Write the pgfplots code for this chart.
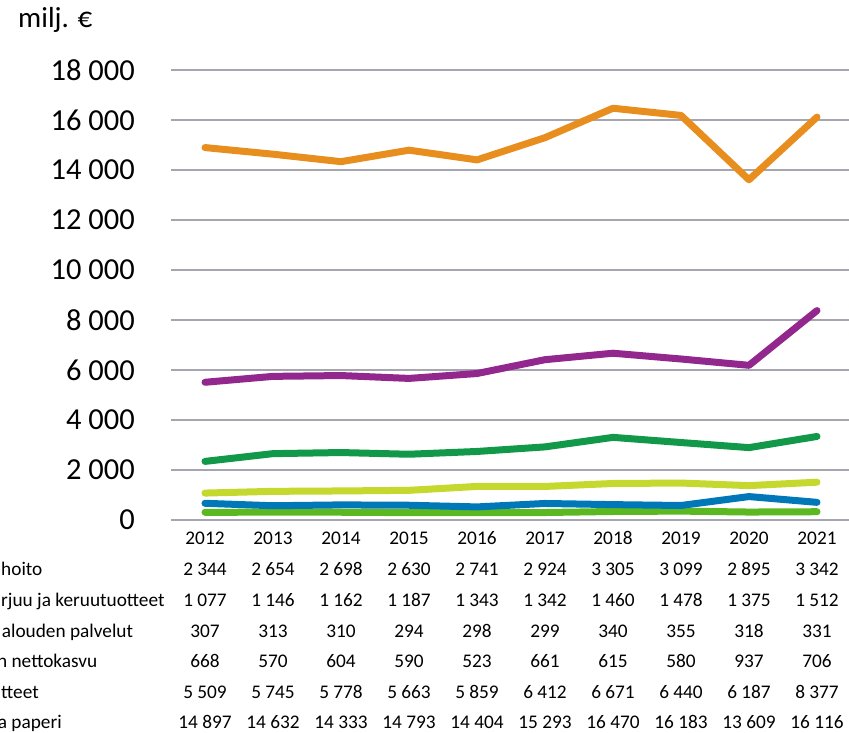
\documentclass[border=0pt]{standalone}
\usepackage{fontspec}
\setmainfont{Carlito}
\usepackage{pgfplots}
\pgfplotsset{compat=1.18}
\definecolor{cHoito}{RGB}{17,152,72}
\definecolor{cMarja}{RGB}{196,216,46}
\definecolor{cPalv}{RGB}{92,184,32}
\definecolor{cNetto}{RGB}{0,120,184}
\definecolor{cPuu}{RGB}{146,40,142}
\definecolor{cMassa}{RGB}{232,142,30}
\definecolor{gridgray}{RGB}{166,166,176}
\newcommand{\tabfont}{\fontsize{19.3}{19.3}\selectfont}
\pgfplotsset{
  tabrow/.style={draw=none, forget plot, point meta=explicit symbolic,
    nodes near coords, nodes near coords align={center},
    every node near coord/.append style={anchor=base, inner sep=0pt, font=\tabfont, text=black}},
}
\begin{document}
\begin{tikzpicture}
\begin{axis}[
  at={(0,0)}, anchor=south west,
  scale only axis, width=680pt, height=450pt,
  xmin=-0.5, xmax=9.5, ymin=0, ymax=18000,
  axis line style={draw=none}, major tick length=0pt,
  scaled y ticks=false,
  ymajorgrids, grid style={draw=gridgray, line width=1.3pt},
  ytick={0,2000,4000,6000,8000,10000,12000,14000,16000,18000},
  yticklabels={0,2 000,4 000,6 000,8 000,10 000,12 000,14 000,16 000,18 000},
  yticklabel style={font=\fontsize{30.5}{30.5}\selectfont, inner sep=0pt, anchor=east, xshift=-36pt},
  xtick={0,1,2,3,4,5,6,7,8,9},
  xticklabels={2012,2013,2014,2015,2016,2017,2018,2019,2020,2021},
  xticklabel style={font=\tabfont, inner sep=0pt, anchor=base, yshift=-25pt},
  clip=false,
  every axis plot/.append style={line width=7pt, line cap=round, line join=round, mark=none},
]
\addplot[cHoito] coordinates {(0,2344)(1,2654)(2,2698)(3,2630)(4,2741)(5,2924)(6,3305)(7,3099)(8,2895)(9,3342)};
\addplot[cMarja] coordinates {(0,1077)(1,1146)(2,1162)(3,1187)(4,1343)(5,1342)(6,1460)(7,1478)(8,1375)(9,1512)};
\addplot[cPalv] coordinates {(0,307)(1,313)(2,310)(3,294)(4,298)(5,299)(6,340)(7,355)(8,318)(9,331)};
\addplot[cNetto] coordinates {(0,668)(1,570)(2,604)(3,590)(4,523)(5,661)(6,615)(7,580)(8,937)(9,706)};
\addplot[cPuu] coordinates {(0,5509)(1,5745)(2,5778)(3,5663)(4,5859)(5,6412)(6,6671)(7,6440)(8,6187)(9,8377)};
\addplot[cMassa] coordinates {(0,14897)(1,14632)(2,14333)(3,14793)(4,14404)(5,15293)(6,16470)(7,16183)(8,13609)(9,16116)};
% data table below the plot
\addplot[tabrow] coordinates {(0,-2240)[2 344] (1,-2240)[2 654] (2,-2240)[2 698] (3,-2240)[2 630] (4,-2240)[2 741] (5,-2240)[2 924] (6,-2240)[3 305] (7,-2240)[3 099] (8,-2240)[2 895] (9,-2240)[3 342]};
\addplot[tabrow] coordinates {(0,-3480)[1 077] (1,-3480)[1 146] (2,-3480)[1 162] (3,-3480)[1 187] (4,-3480)[1 343] (5,-3480)[1 342] (6,-3480)[1 460] (7,-3480)[1 478] (8,-3480)[1 375] (9,-3480)[1 512]};
\addplot[tabrow] coordinates {(0,-4720)[307] (1,-4720)[313] (2,-4720)[310] (3,-4720)[294] (4,-4720)[298] (5,-4720)[299] (6,-4720)[340] (7,-4720)[355] (8,-4720)[318] (9,-4720)[331]};
\addplot[tabrow] coordinates {(0,-5920)[668] (1,-5920)[570] (2,-5920)[604] (3,-5920)[590] (4,-5920)[523] (5,-5920)[661] (6,-5920)[615] (7,-5920)[580] (8,-5920)[937] (9,-5920)[706]};
\addplot[tabrow] coordinates {(0,-7160)[5 509] (1,-7160)[5 745] (2,-7160)[5 778] (3,-7160)[5 663] (4,-7160)[5 859] (5,-7160)[6 412] (6,-7160)[6 671] (7,-7160)[6 440] (8,-7160)[6 187] (9,-7160)[8 377]};
\addplot[tabrow] coordinates {(0,-8360)[14 897] (1,-8360)[14 632] (2,-8360)[14 333] (3,-8360)[14 793] (4,-8360)[14 404] (5,-8360)[15 293] (6,-8360)[16 470] (7,-8360)[16 183] (8,-8360)[13 609] (9,-8360)[16 116]};
\node[anchor=base west, inner sep=0pt, font=\tabfont] at (axis cs:-3.0,-2240) {hoito};
\node[anchor=base west, inner sep=0pt, font=\tabfont] at (axis cs:-3.0,-3480) {rjuu ja keruutuotteet};
\node[anchor=base west, inner sep=0pt, font=\tabfont] at (axis cs:-2.99,-4720) {alouden palvelut};
\node[anchor=base west, inner sep=0pt, font=\tabfont] at (axis cs:-3.06,-5920) {n nettokasvu};
\node[anchor=base west, inner sep=0pt, font=\tabfont] at (axis cs:-3.0,-7160) {tteet};
\node[anchor=base west, inner sep=0pt, font=\tabfont] at (axis cs:-3.05,-8360) {a paperi};
\end{axis}
\node[anchor=base west, inner sep=0pt, font=\fontsize{29}{29}\selectfont] at (-153pt,492pt) {milj. €};
\pgfresetboundingbox
\path[use as bounding box] (-171pt,-213pt) rectangle (678pt,520pt);
\end{tikzpicture}
\end{document}
